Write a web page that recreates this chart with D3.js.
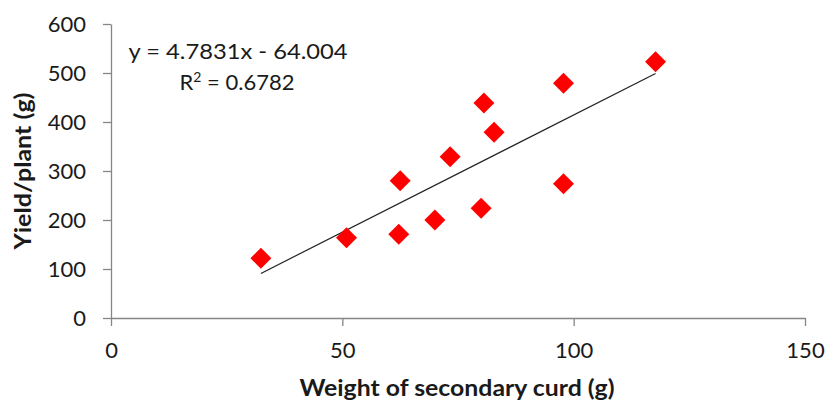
<!DOCTYPE html>
<html>
<head>
<meta charset="utf-8">
<script src="https://cdn.jsdelivr.net/npm/d3@7"></script>
<style>
  body { margin: 0; background: #fff; }
  text { font-family: Lato, "Open Sans", sans-serif; fill: #1a1a1a; }
</style>
</head>
<body>
<svg id="chart" width="830" height="403"></svg>
<script>
// secondary curd weight (g) vs yield per plant (g)
const curdWeight = [32.4, 50.9, 62.2, 62.5, 70.0, 73.3, 80.0, 80.6, 82.8, 97.8, 97.8, 117.7]
const plantYield = [122, 164, 171, 280, 200, 329, 224, 439, 379, 479, 274, 523]
const xTicks = [0, 50, 100, 150]
const yTicks = [0, 100, 200, 300, 400, 500, 600]
const slope = 4.7831
const intercept = -64.004
const eqnLabel = "y = 4.7831x - 64.004"
const r2Value = "0.6782"

const svg = d3.select("#chart")
const axisColor = "#868686"

const scX = d3.scaleLinear().domain([0, 150]).range([111, 805])
const scY = d3.scaleLinear().domain([0, 600]).range([318, 24])

// axes
let xAxis = svg.append("g").attr("class", "x")
    .attr("transform", `translate(0,${scY(0)})`)
    .call(d3.axisBottom(scX).tickValues(xTicks).tickSize(8).tickSizeOuter(0).tickPadding(16))
let yAxis = svg.append("g").attr("class", "y")
    .attr("transform", `translate(${scX(0)},0)`)
    .call(d3.axisLeft(scY).tickValues(yTicks).tickSize(8).tickSizeOuter(0).tickPadding(17))

svg.selectAll(".x, .y").call(g => {
    g.selectAll("path, line").attr("stroke", axisColor).attr("stroke-width", 1.3)
    g.selectAll("text").attr("font-size", 22).attr("fill", "#222")
        .attr("font-family", "Lato, 'Open Sans', sans-serif")
})

// trend line from the fitted equation
let xExt = d3.extent(curdWeight)
svg.append("line")
    .attr("x1", scX(xExt[0])).attr("y1", scY(slope * xExt[0] + intercept))
    .attr("x2", scX(xExt[1])).attr("y2", scY(slope * xExt[1] + intercept))
    .attr("stroke", "#222").attr("stroke-width", 1.2)

// points
let pts = curdWeight.map((w, i) => ({ x: w, y: plantYield[i] }))
let diamond = d3.symbol().type(d3.symbolSquare).size(220)
svg.append("g").selectAll("path").data(pts).enter().append("path")
    .attr("d", diamond)
    .attr("transform", d => `translate(${scX(d.x)},${scY(d.y)}) rotate(45)`)
    .attr("fill", "#ff0000")

// equation labels
svg.append("text").attr("x", 238).attr("y", 59)
    .attr("text-anchor", "middle").attr("font-size", 22)
    .attr("textLength", 219).attr("lengthAdjust", "spacingAndGlyphs")
    .text(eqnLabel)
let r2 = svg.append("text").attr("x", 237).attr("y", 90)
    .attr("text-anchor", "middle").attr("font-size", 22)
r2.append("tspan").text("R")
r2.append("tspan").attr("font-size", 14).attr("dy", -8).text("2")
r2.append("tspan").attr("dy", 8).text(" = " + r2Value)

// axis titles
svg.append("text").attr("x", 457).attr("y", 396)
    .attr("text-anchor", "middle").attr("font-size", 23).attr("font-weight", "bold")
    .attr("textLength", 315).attr("lengthAdjust", "spacingAndGlyphs")
    .text("Weight of secondary curd (g)")
svg.append("text")
    .attr("transform", "translate(31,171) rotate(-90)")
    .attr("text-anchor", "middle").attr("font-size", 23).attr("font-weight", "bold")
    .attr("textLength", 157).attr("lengthAdjust", "spacingAndGlyphs")
    .text("Yield/plant (g)")
</script>
</body>
</html>
